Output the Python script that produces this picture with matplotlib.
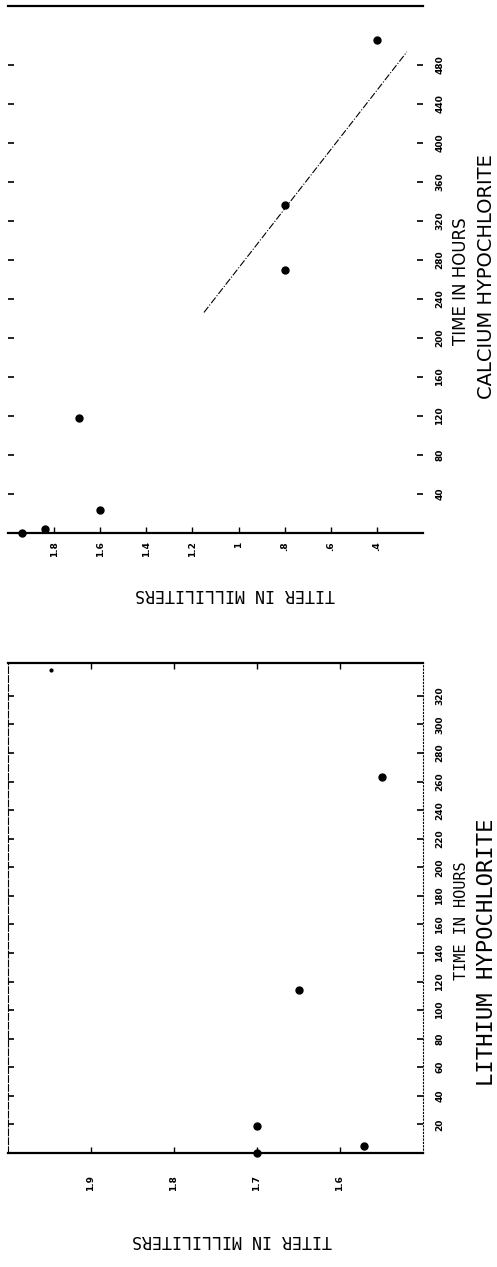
import matplotlib
matplotlib.use('Agg')
import matplotlib.pyplot as plt

# calcium hypochlorite (top panel)
ca_titer = [1.94, 1.84, 1.60, 1.69, 0.80, 0.80, 0.40]
ca_hours = [0, 4, 24, 118, 269, 336, 505]
ca_fit_titer = [1.15, 0.27]
ca_fit_hours = [226, 493]
ca_titer_ticks = [1.8, 1.6, 1.4, 1.2, 1.0, 0.8, 0.6, 0.4]
ca_titer_labels = ['1.8', '1.6', '1.4', '1.2', '1', '.8', '.6', '.4']
ca_hour_ticks = list(range(40, 481, 40))

# lithium hypochlorite (bottom panel)
li_titer = [1.70, 1.70, 1.571, 1.649, 1.549]
li_hours = [0, 19, 5, 114, 263]
li_extra_titer = [1.948]
li_extra_hours = [338]
li_titer_ticks = [1.9, 1.8, 1.7, 1.6]
li_titer_labels = ['1.9', '1.8', '1.7', '1.6']
li_hour_ticks = list(range(20, 321, 20))

W, H = 497, 1267
fig = plt.figure(figsize=(W / 100, H / 100), dpi=100)

tick_font = dict(family='DejaVu Sans', weight='bold', size=6.5)
narrow = ['Liberation Sans Narrow', 'DejaVu Sans']


def px(x0, y0, x1, y1):
    # pixel box -> figure fraction [left, bottom, width, height]
    return [x0 / W, 1 - y1 / H, (x1 - x0) / W, (y1 - y0) / H]


def setup(ax, xlim, ylim, xt, xl, yt, xpad):
    ax.set_xlim(*xlim)
    ax.set_ylim(*ylim)
    ax.set_xticks(xt)
    ax.set_xticklabels(xl, rotation=90, **tick_font)
    ax.set_yticks(yt)
    ax.set_yticklabels([str(t) for t in yt], rotation=90, va='center', **tick_font)
    ax.yaxis.tick_right()
    ax.tick_params(axis='y', which='both', left=True, right=True, labelleft=False,
                   labelright=True, direction='in', length=4, width=1.2, pad=9)
    ax.tick_params(axis='x', direction='in', length=4, width=1, pad=xpad)
    for s in ['top', 'bottom']:
        ax.spines[s].set_linewidth(1.6)


# ---- top panel
ax1 = fig.add_axes(px(8, 6, 423, 533))
setup(ax1, (2.0, 0.2), (0, 540), ca_titer_ticks, ca_titer_labels, ca_hour_ticks, 6)
ax1.spines['left'].set_visible(False)
ax1.spines['right'].set_visible(False)
ax1.plot(ca_titer, ca_hours, 'o', color='black', ms=5, clip_on=False)
ax1.plot(ca_fit_titer, ca_fit_hours, '-.', color='black', lw=0.8)

fig.text(461 / W, 1 - 281 / H, 'TIME IN HOURS', rotation=90, ha='center', va='center',
         family=narrow, size=12)
fig.text(487 / W, 1 - 277 / H, 'CALCIUM HYPOCHLORITE', rotation=90, ha='center', va='center',
         family=narrow, size=14)
fig.text(235 / W, 1 - 594 / H, 'TITER IN MILLILITERS', rotation=180, ha='center', va='center',
         family='DejaVu Sans Mono', size=12)

# ---- bottom panel
ax2 = fig.add_axes(px(8, 663, 423, 1153))
setup(ax2, (2.0, 1.5), (0, 343), li_titer_ticks, li_titer_labels, li_hour_ticks, 16)
ax2.tick_params(axis='x', top=True)
ax2.spines['left'].set_linestyle((0, (6, 2)))
ax2.spines['left'].set_linewidth(0.8)
ax2.spines['right'].set_linestyle((0, (1, 2)))
ax2.spines['right'].set_linewidth(0.8)
ax2.plot(li_titer, li_hours, 'o', color='black', ms=5, clip_on=False)
ax2.plot(li_extra_titer, li_extra_hours, 'o', color='black', ms=2)

fig.text(461 / W, 1 - 921 / H, 'TIME IN HOURS', rotation=90, ha='center', va='center',
         family='DejaVu Sans Mono', size=11)
fig.text(487 / W, 1 - 952 / H, 'LITHIUM HYPOCHLORITE', rotation=90, ha='center', va='center',
         family='DejaVu Sans Mono', size=16)
fig.text(232 / W, 1 - 1240 / H, 'TITER IN MILLILITERS', rotation=180, ha='center', va='center',
         family='DejaVu Sans Mono', size=12)

fig.savefig('out.png', dpi=100)
